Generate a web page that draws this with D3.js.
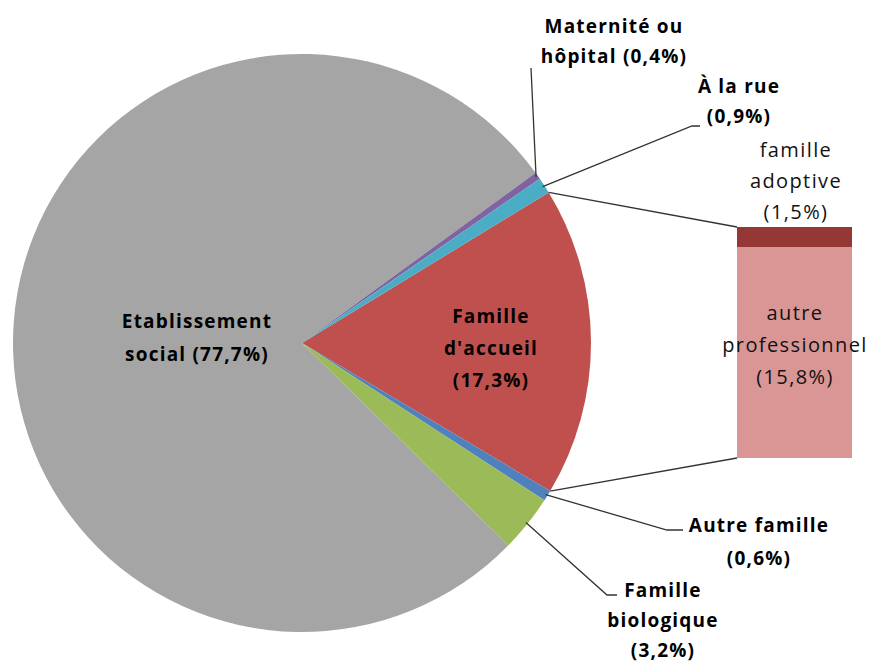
<!DOCTYPE html>
<html>
<head>
<meta charset="utf-8">
<script src="https://cdn.jsdelivr.net/npm/d3@7"></script>
<style>
  body { margin: 0; background: #fff; }
  text { font-family: "Open Sans", sans-serif; }
</style>
</head>
<body>
<svg id="chart" width="869" height="663"></svg>
<script>
// pie slices, clockwise starting from the "Famille d'accueil" slice
let categories = ["Famille d'accueil", "Autre famille", "Famille biologique", "Etablissement social", "Maternité ou hôpital", "À la rue"];
let values = [17.3, 0.6, 3.2, 77.7, 0.4, 0.9];
let labels = ["(17,3%)", "(0,6%)", "(3,2%)", "(77,7%)", "(0,4%)", "(0,9%)"];
let colors = ["#c0504d", "#4f81bd", "#9bbb59", "#a5a5a5", "#8064a2", "#4bacc6"];

// breakdown of "Famille d'accueil" in the bar
let barCategories = ["famille adoptive", "autre professionnel"];
let barValues = [1.5, 15.8];
let barLabels = ["(1,5%)", "(15,8%)"];
let barColors = ["#953735", "#d99694"];

let svg = d3.select("#chart");
let cx = 302, cy = 343, radius = 289;

let span = values[0] / d3.sum(values) * 2 * Math.PI;
let start = Math.PI / 2 - span / 2 - 0.005;

let pie = d3.pie().sort(null).value(d => d)
    .startAngle(start).endAngle(start + 2 * Math.PI);
let arcs = pie(values);
let arc = d3.arc().innerRadius(0).outerRadius(radius);

let g = svg.append("g").attr("transform", "translate(" + cx + "," + cy + ")");
g.selectAll("path")
    .data(arcs)
    .enter().append("path")
    .attr("d", arc)
    .attr("fill", (d, i) => colors[i]);

// point on the pie edge at a given angle
let edge = (a, r) => [cx + r * Math.sin(a), cy - r * Math.cos(a)];

// bar of pie
let barX = 737, barW = 115, barTop = 227, barBottom = 458;
let y = d3.scaleLinear().domain([0, d3.sum(barValues)]).range([barTop, barBottom]);
let stack = d3.cumsum(barValues);
let bars = svg.append("g");
bars.selectAll("rect")
    .data(barValues)
    .enter().append("rect")
    .attr("x", barX)
    .attr("y", (d, i) => y(stack[i] - d))
    .attr("width", barW)
    .attr("height", d => y(d) - y(0))
    .attr("fill", (d, i) => barColors[i]);

// connectors between the slice and the bar
let p1 = edge(arcs[0].startAngle, radius);
let p2 = edge(arcs[0].endAngle, radius);
svg.append("line").attr("x1", p1[0]).attr("y1", p1[1]).attr("x2", barX).attr("y2", y(0))
    .attr("stroke", "#333").attr("stroke-width", 1.3);
svg.append("line").attr("x1", p2[0]).attr("y1", p2[1]).attr("x2", barX).attr("y2", y(d3.sum(barValues)))
    .attr("stroke", "#333").attr("stroke-width", 1.3);

let addText = (lines, x, y0, lh, opts) => {
    let t = svg.append("text")
        .attr("x", x).attr("y", y0)
        .attr("text-anchor", opts.anchor || "middle")
        .attr("font-size", opts.size || 19)
        .attr("font-weight", opts.bold ? "bold" : "normal")
        .attr("letter-spacing", opts.spacing || 0)
        .attr("fill", opts.fill || "#000");
    lines.forEach((l, i) => {
        t.append("tspan").attr("x", x).attr("dy", i === 0 ? 0 : lh).text(l);
    });
};

let bold = {bold: true, size: 19, spacing: 1.2};

// labels inside the pie
addText(["Etablissement", "social  " + labels[3]], 197, 328, 33, bold);
addText(["Famille", "d'accueil", labels[0]], 491, 323, 32, bold);

// bar labels
let reg = {size: 20, fill: "#111", spacing: 1.4};
addText(["famille", "adoptive", barLabels[0]], 796, 157, 31, reg);
addText(["autre", "professionnel", barLabels[1]], 795, 320, 32, reg);

// leader lines for the small slices
let mid = d => (d.startAngle + d.endAngle) / 2;
let leader = (d, pts) => {
    let s = edge(mid(d), radius - 2);
    svg.append("polyline")
        .attr("points", [s].concat(pts).map(p => p.join(",")).join(" "))
        .attr("fill", "none").attr("stroke", "#333").attr("stroke-width", 1.3);
};
leader(arcs[4], [[531, 68]]);
leader(arcs[5], [[692, 126], [700, 126]]);
leader(arcs[1], [[667, 530], [683, 530]]);
leader(arcs[2], [[607, 595], [617, 595]]);

addText(["Maternité ou", "hôpital " + labels[4]], 614, 33, 30, bold);
addText(["À la rue", labels[5]], 739, 93, 30, bold);
addText(["Autre famille", labels[1]], 759, 532, 33, bold);
addText(["Famille", "biologique", labels[2]], 663, 597, 30, bold);
</script>
</body>
</html>
